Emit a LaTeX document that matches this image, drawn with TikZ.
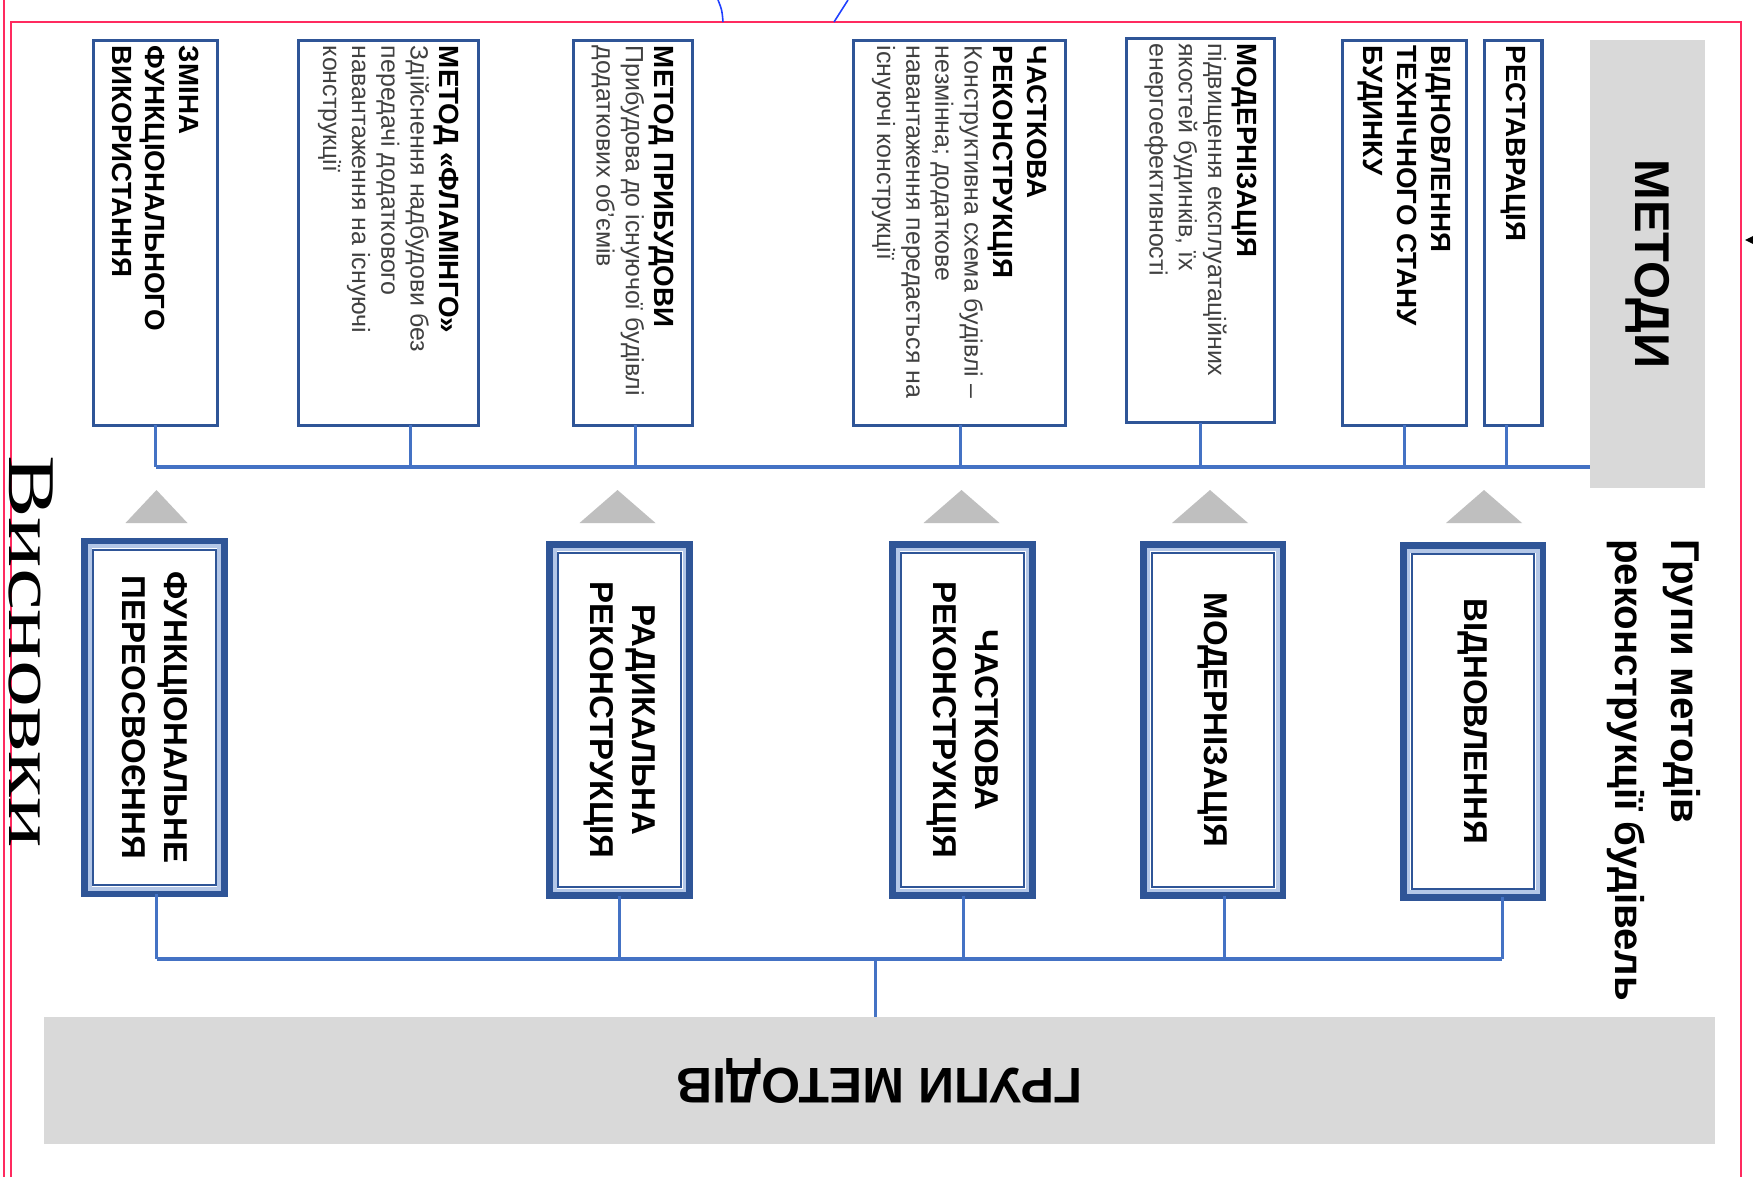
\documentclass[tikz,border=0pt]{standalone}
\usepackage{graphicx}
\usepackage{fontspec}
\setmainfont{Liberation Sans}
\newfontfamily\serifcyr{Liberation Serif}
\usetikzlibrary{calc}
\definecolor{boxblue}{HTML}{2F5597}
\definecolor{linkblue}{HTML}{4472C4}
\definecolor{paleblue}{HTML}{B4C7E7}
\definecolor{bargrey}{HTML}{D9D9D9}
\definecolor{trigrey}{HTML}{BFBFBF}
\definecolor{desctext}{HTML}{404040}
\definecolor{framepink}{HTML}{FF2A5F}
\definecolor{strayblue}{HTML}{1F3FFF}
% text of a method box: bold title, then description
\newcommand{\mtext}[2]{\rotatebox{-90}{\parbox{213pt}{\raggedright\fontsize{15.8}{19.3}\selectfont\bfseries #1\par
  \fontsize{14.2}{16.6}\selectfont\mdseries\color{desctext}#2}}}
\newcommand{\gtext}[1]{\rotatebox{-90}{\parbox{200pt}{\centering #1}}}
\tikzset{
  metod/.style={draw=boxblue,line width=1.8pt,inner sep=0pt,outer sep=0pt,minimum height=218.8pt,fill=white},
  grupa/.style={draw=boxblue,line width=4pt,inner sep=0pt,outer sep=0pt,minimum width=79.4pt,minimum height=197.8pt,
    font=\fontsize{18.8}{24}\selectfont\bfseries},
  link/.style={linkblue,line width=1.7pt},
  bus/.style={linkblue,line width=2.3pt},
  bar/.style={fill=bargrey,inner sep=0pt,outer sep=0pt},
  tri/.style={fill=trigrey},
}
\begin{document}
\begin{tikzpicture}[x=0.02cm,y=-0.02cm]
\useasboundingbox[fill=white] (0,0) rectangle (1753,1177);
% frame
\draw[framepink,line width=1.1pt] (4,0) -- (4,1177);
\draw[framepink,line width=1.1pt] (11,1177) -- (11,22) -- (1741,22) -- (1741,1177);
\draw[strayblue,line width=0.9pt] (718,0) .. controls (722,10) .. (723,22);
\draw[strayblue,line width=0.9pt] (848,0) -- (834,22);
\fill (1745,240) -- (1753,236) -- (1753,244) -- cycle;
% methods
\node[metod,minimum width=70.9pt] (m1) at (155.5,233) {\mtext{ЗМІНА\\ФУНКЦІОНАЛЬНОГО\\ВИКОРИСТАННЯ}{}};
\node[metod,minimum width=102.6pt] (m2) at (388.5,233) {\mtext{МЕТОД «ФЛАМІНГО»}{Здійснення надбудови без\\передачі додаткового\\навантаження на існуючі\\конструкції}};
\node[metod,minimum width=68pt] (m3) at (633,233) {\mtext{МЕТОД ПРИБУДОВИ}{Прибудова до існуючої будівлі\\додаткових об’ємів}};
\node[metod,minimum width=120.7pt] (m4) at (959.5,233) {\mtext{ЧАСТКОВА\\РЕКОНСТРУКЦІЯ}{Конструктивна схема будівлі –\\незмінна; додаткове\\навантаження передається на\\існуючі конструкції}};
\node[metod,minimum width=84.5pt] (m5) at (1200.5,230.5) {\mtext{МОДЕРНІЗАЦІЯ}{підвищення експлуатаційних\\якостей будинків, їх\\енергоефективності}};
\node[metod,minimum width=70.9pt] (m6) at (1404.5,233) {\mtext{ВІДНОВЛЕННЯ\\ТЕХНІЧНОГО СТАНУ\\БУДИНКУ}{}};
\node[metod,minimum width=32.9pt] (m7) at (1513,233) {\mtext{РЕСТАВРАЦІЯ}{}};
\node[bar,minimum width=65.2pt,minimum height=255.1pt,font=\fontsize{27.8}{30}\selectfont\bfseries] (metody) at (1647.5,264) {\rotatebox{-90}{МЕТОДИ}};
% groups
\node[grupa,minimum height=200.7pt] (g1) at (154.5,717.5) {\gtext{ФУНКЦІОНАЛЬНЕ\\ПЕРЕОСВОЄННЯ}};
\node[grupa] (g2) at (619.5,720) {\gtext{РАДИКАЛЬНА\\РЕКОНСТРУКЦІЯ}};
\node[grupa] (g3) at (962.5,720) {\gtext{ЧАСТКОВА\\РЕКОНСТРУКЦІЯ}};
\node[grupa] (g4) at (1213,720) {\gtext{МОДЕРНІЗАЦІЯ}};
\node[grupa] (g5) at (1473,721.5) {\gtext{ВІДНОВЛЕННЯ}};
\foreach \g in {g1,g2,g3,g4,g5}{
  \draw[paleblue,line width=2pt] ($(\g.south west)+(5,-5)$) rectangle ($(\g.north east)+(-5,5)$);
  \draw[boxblue,line width=1.3pt] ($(\g.south west)+(8.5,-8.5)$) rectangle ($(\g.north east)+(-8.5,8.5)$);
}
\node[bar,minimum width=950.7pt,minimum height=72pt,font=\fontsize{28.5}{30}\selectfont\bfseries] (grupy) at (879.5,1080.5) {\rotatebox{180}{ГРУПИ МЕТОДІВ}};
\node[inner sep=0pt,anchor=north,font=\fontsize{22.9}{31.7}\selectfont\bfseries] (nazva) at (1654,539)
  {\rotatebox{-90}{\parbox{300pt}{\raggedright Групи методів\\реконструкції будівель}}};
\node[inner sep=0pt,font=\serifcyr\fontsize{38}{42}\selectfont] (vysnovky) at (31,651.5) {\rotatebox{-90}{\scalebox{1.41}[1]{Висновки}}};
% triangles
\coordinate (tribase) at (0,523);
\coordinate (triapex) at (0,490);
\foreach \g/\w/\d in {g1/31/2,g2/38/-2,g3/38/-1,g4/38/-3,g5/38/11}
  \fill[tri] ($(\g.north |- tribase)+(\d-\w,0)$) -- ($(\g.north |- tribase)+(\d+\w,0)$) -- ($(\g.north |- triapex)+(\d,0)$) -- cycle;
% connectors
\coordinate (tbus) at (0,467);
\coordinate (bbus) at (0,959);
\coordinate (trunk) at (875,959);
\foreach \m/\d in {m1/0,m2/22,m3/2,m4/1,m5/0,m6/0,m7/-7}
  \draw[link] ($(\m.south)+(\d,0)$) -- ($(\m.south |- tbus)+(\d,0)$);
\draw[bus] (m1.south |- tbus) -- (metody.west |- tbus);
\foreach \g/\d in {g1/2,g2/0,g3/1,g4/11,g5/29}
  \draw[link] ($(\g.south)+(\d,0)$) -- ($(\g.south |- bbus)+(\d,0)$);
\draw[bus] ($(g1.south |- bbus)+(2,0)$) -- ($(g5.south |- bbus)+(29,0)$);
\draw[link] (trunk) -- (trunk |- grupy.north);
\end{tikzpicture}
\end{document}
